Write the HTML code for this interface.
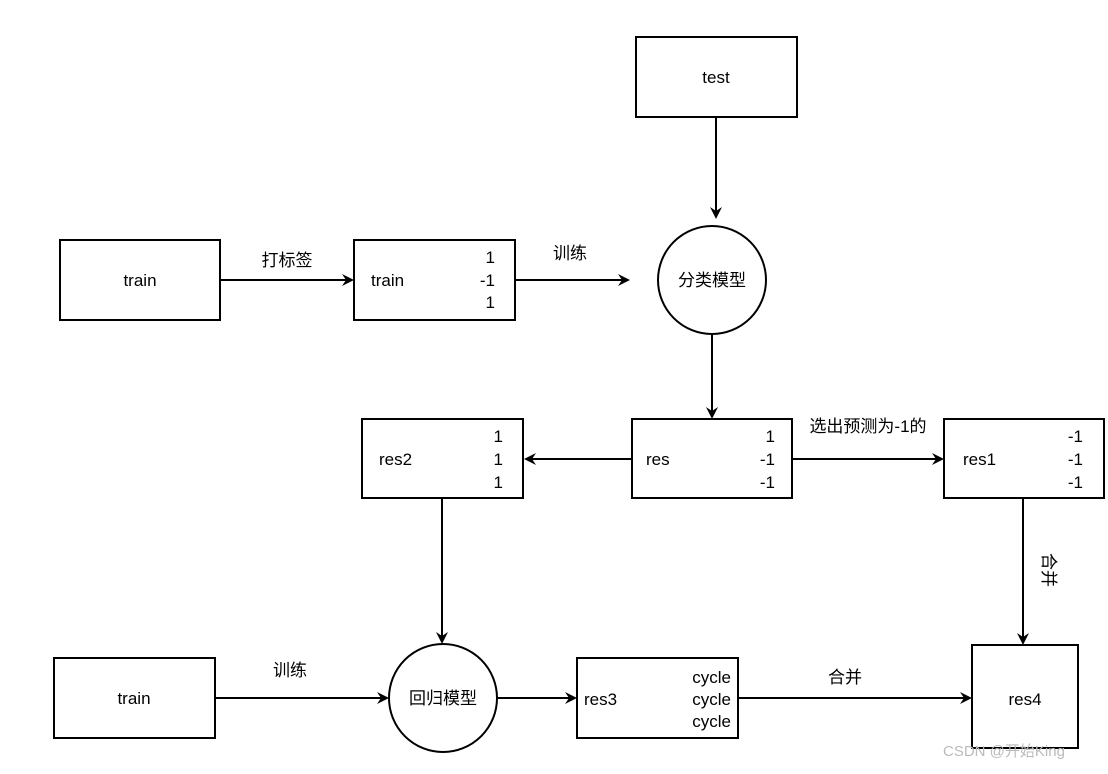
<!DOCTYPE html>
<html><head><meta charset="utf-8"><style>html,body{margin:0;padding:0;background:#fff}</style></head><body>
<svg width="1108" height="769" viewBox="0 0 1108 769" xmlns="http://www.w3.org/2000/svg" font-family="Liberation Sans, Noto Sans CJK SC, sans-serif" font-size="17" fill="#000">
<defs><marker id="a" markerWidth="12" markerHeight="12" refX="10" refY="6" orient="auto" markerUnits="userSpaceOnUse"><path d="M0,0 L12,6 L0,12 L4,6 Z" fill="#000"/></marker></defs>
<g fill="#fff" stroke="#000" stroke-width="2">
<rect x="636" y="37" width="161" height="80"/>
<rect x="60" y="240" width="160" height="80"/>
<rect x="354" y="240" width="161" height="80"/>
<circle cx="712" cy="280" r="54"/>
<rect x="632" y="419" width="160" height="79"/>
<rect x="362" y="419" width="161" height="79"/>
<rect x="944" y="419" width="160" height="79"/>
<rect x="54" y="658" width="161" height="80"/>
<circle cx="443" cy="698" r="54"/>
<rect x="577" y="658" width="161" height="80"/>
<rect x="972" y="645" width="106" height="103"/>
</g>
<g stroke="#000" stroke-width="2" marker-end="url(#a)">
<line x1="716" y1="117" x2="716" y2="217"/>
<line x1="220" y1="280" x2="352" y2="280"/>
<line x1="515" y1="280" x2="628" y2="280"/>
<line x1="712" y1="334" x2="712" y2="417"/>
<line x1="632" y1="459" x2="526" y2="459"/>
<line x1="792" y1="459" x2="942" y2="459"/>
<line x1="1023" y1="498" x2="1023" y2="643"/>
<line x1="442" y1="498" x2="442" y2="642"/>
<line x1="215" y1="698" x2="387" y2="698"/>
<line x1="497" y1="698" x2="575" y2="698"/>
<line x1="738" y1="698" x2="970" y2="698"/>
</g>
<g text-anchor="middle">
<text x="716" y="83">test</text>
<text x="140" y="286">train</text>
<text x="712" y="286">分类模型</text>
<text x="443" y="704">回归模型</text>
<text x="134" y="704">train</text>
<text x="1025" y="705">res4</text>
<text x="287" y="266">打标签</text>
<text x="570" y="259">训练</text>
<text x="290" y="676">训练</text>
<text x="845" y="683">合并</text>
<text x="868" y="432">选出预测为-1的</text>
</g>
<text x="1043" y="570" transform="rotate(90 1043 570)" text-anchor="middle">合并</text>
<text x="371" y="286">train</text>
<g text-anchor="end">
<text x="495" y="263">1</text><text x="495" y="286">-1</text><text x="495" y="308">1</text>
<text x="775" y="442">1</text><text x="775" y="465">-1</text><text x="775" y="488">-1</text>
<text x="503" y="442">1</text><text x="503" y="465">1</text><text x="503" y="488">1</text>
<text x="1083" y="442">-1</text><text x="1083" y="465">-1</text><text x="1083" y="488">-1</text>
<text x="731" y="683">cycle</text><text x="731" y="705">cycle</text><text x="731" y="727">cycle</text>
</g>
<text x="646" y="465">res</text>
<text x="379" y="465">res2</text>
<text x="963" y="465">res1</text>
<text x="584" y="705">res3</text>
<text x="943" y="756" font-size="15" fill="#bbb">CSDN @开始King</text>
</svg>
</body></html>
